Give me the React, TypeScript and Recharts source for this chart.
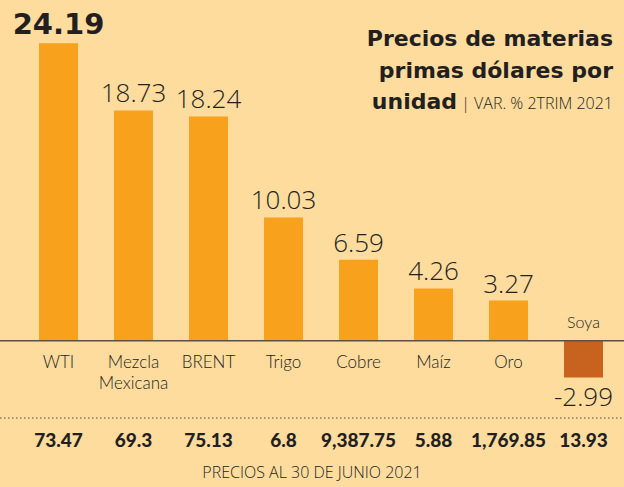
import React from "react"
import { BarChart, Bar, XAxis, YAxis, Cell, LabelList, ReferenceLine } from "recharts"

const categories = ["WTI", "Mezcla Mexicana", "BRENT", "Trigo", "Cobre", "Maíz", "Oro", "Soya"]
const variation = [24.19, 18.73, 18.24, 10.03, 6.59, 4.26, 3.27, -2.99]
const prices = ["73.47", "69.3", "75.13", "6.8", "9,387.75", "5.88", "1,769.85", "13.93"]

const data = categories.map((name, i) => ({ name, value: variation[i], price: prices[i] }))

const BG = "#fddc9e"
const BAR = "#f8a11d"
const NEG = "#c8621f"
const INK = "#231f20"
const LIGHT = "'Open Sans', Lato, sans-serif"
const THIN = "Lato, 'Open Sans', sans-serif"
const HEAVY = "'DejaVu Sans', sans-serif"
const BLACK = "Lato, sans-serif"

const maxValue = Math.max(...variation)

const BarLabels = (props: any) => {
  const { x, y, width, height, index } = props
  const v = variation[index]
  const top = Math.min(y, y + height)
  const bottom = Math.max(y, y + height)
  const cx = x + width / 2
  const base = v >= 0 ? bottom : top
  const lines = categories[index].split(" ")
  const isMax = v === maxValue
  return (
    <g fill={INK}>
      {v >= 0 ? (
        isMax ? (
          <text x={cx} y={top - 9} textAnchor="middle" fontFamily={HEAVY} fontSize={29} fontWeight={700}>
            {v.toFixed(2)}
          </text>
        ) : (
          <text x={cx} y={top - 8} textAnchor="middle" fontFamily={LIGHT} fontSize={26} fontWeight={300}>
            {v.toFixed(2)}
          </text>
        )
      ) : (
        <text x={cx} y={bottom + 28} textAnchor="middle" fontFamily={LIGHT} fontSize={26} fontWeight={300}>
          {v.toFixed(2)}
        </text>
      )}
      {v >= 0 ? (
        lines.map((l, k) => (
          <text key={k} x={cx} y={base + 27 + k * 21} textAnchor="middle" fontFamily={THIN} fontSize={17} fontWeight={300}>
            {l}
          </text>
        ))
      ) : (
        <text x={cx} y={base - 13} textAnchor="middle" fontFamily={THIN} fontSize={16} fontWeight={300}>
          {lines[0]}
        </text>
      )}
      <text x={cx} y={447} textAnchor="middle" fontFamily={BLACK} fontSize={19} fontWeight={900}>
        {prices[index]}
      </text>
    </g>
  )
}

export default function App() {
  return (
    <div style={{ position: "absolute", left: 0, top: 0, width: 624, height: 487, background: BG, overflow: "hidden" }}>
      <BarChart width={624} height={487} data={data} margin={{ top: 21, right: 0, bottom: 97, left: 0 }}>
        <XAxis dataKey="name" hide padding={{ left: 21, right: 3 }} />
        <YAxis hide domain={[-4, 26]} />
        <ReferenceLine y={0} stroke="#5e5040" strokeWidth={1.5} />
        <Bar dataKey="value" barSize={39} isAnimationActive={false}>
          {data.map((d, i) => (
            <Cell key={i} fill={d.value < 0 ? NEG : BAR} />
          ))}
          <LabelList dataKey="value" content={BarLabels} />
        </Bar>
      </BarChart>
      <svg width={624} height={487} style={{ position: "absolute", left: 0, top: 0, pointerEvents: "none" }}>
        <line x1={0} x2={624} y1={418} y2={418} stroke="#8a7a66" strokeWidth={1.5} strokeDasharray="1.5 2.5" />
        <g fill={INK} textAnchor="end">
          <text x={613} y={46} fontFamily={HEAVY} fontSize={22} fontWeight={700}>Precios de materias</text>
          <text x={613} y={78} fontFamily={HEAVY} fontSize={22} fontWeight={700}>primas dólares por</text>
          <text x={613} y={109}>
            <tspan fontFamily={HEAVY} fontSize={22} fontWeight={700}>unidad</tspan>
            <tspan fontFamily={LIGHT} fontSize={16} fontWeight={300}> | VAR. % 2TRIM 2021</tspan>
          </text>
        </g>
        <text x={312} y={478} textAnchor="middle" fontFamily={LIGHT} fontSize={16} fontWeight={300} fill={INK}>
          PRECIOS AL 30 DE JUNIO 2021
        </text>
      </svg>
    </div>
  )
}
